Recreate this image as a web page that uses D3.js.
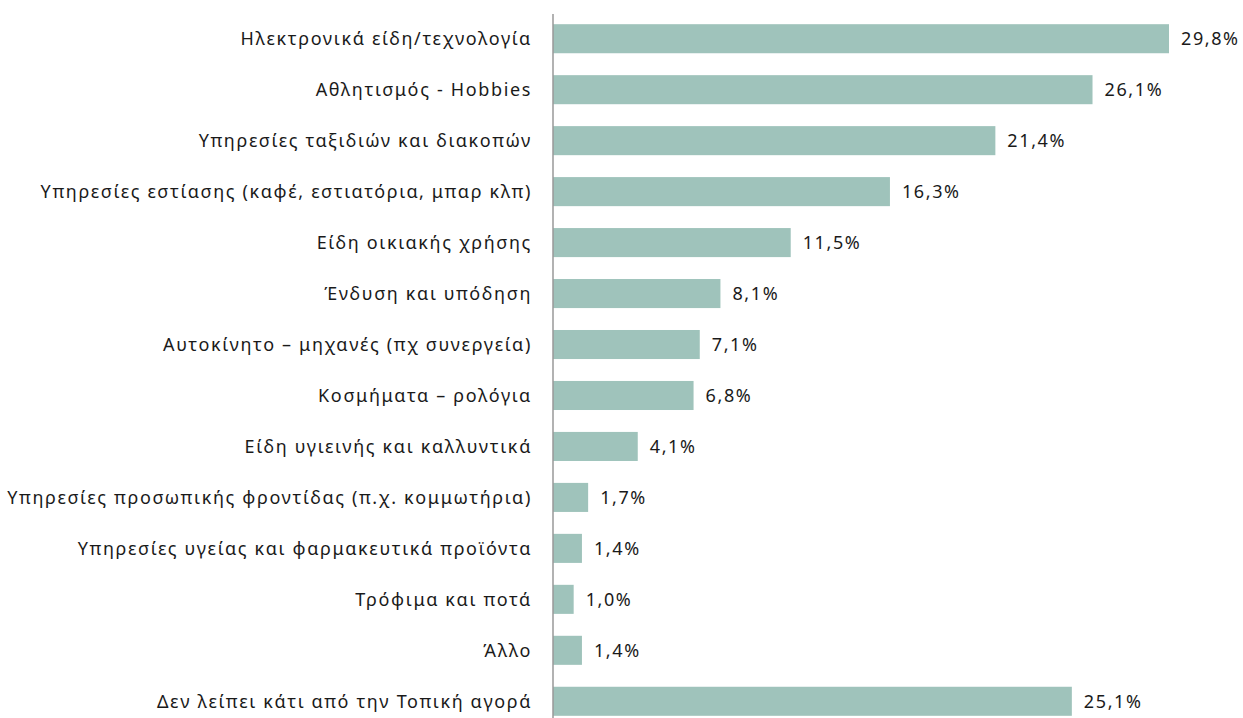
<!DOCTYPE html>
<html>
<head>
<meta charset="utf-8">
<script src="https://cdn.jsdelivr.net/npm/d3@7"></script>
<style>
  body { margin: 0; background: #fff; }
  text { font-family: "Noto Sans", "DejaVu Sans", sans-serif; fill: #1a1a1a; }
</style>
</head>
<body>
<script>
var categories = [
  "Ηλεκτρονικά είδη/τεχνολογία",
  "Αθλητισμός - Hobbies",
  "Υπηρεσίες ταξιδιών και διακοπών",
  "Υπηρεσίες εστίασης (καφέ, εστιατόρια, μπαρ κλπ)",
  "Είδη οικιακής χρήσης",
  "Ένδυση και υπόδηση",
  "Αυτοκίνητο – μηχανές (πχ συνεργεία)",
  "Κοσμήματα – ρολόγια",
  "Είδη υγιεινής και καλλυντικά",
  "Υπηρεσίες προσωπικής φροντίδας (π.χ. κομμωτήρια)",
  "Υπηρεσίες υγείας και φαρμακευτικά προϊόντα",
  "Τρόφιμα και ποτά",
  "Άλλο",
  "Δεν λείπει κάτι από την Τοπική αγορά"
];
var values = [29.8, 26.1, 21.4, 16.3, 11.5, 8.1, 7.1, 6.8, 4.1, 1.7, 1.4, 1.0, 1.4, 25.1];

var width = 1243, height = 718;
var axisX = 553;

var svg = d3.select("body").append("svg")
    .attr("width", width)
    .attr("height", height);

var x = d3.scaleLinear().domain([0, 29.8]).range([axisX, axisX + 616]);
var y = d3.scaleBand().domain(categories).range([14, 726]).paddingInner(0.43).paddingOuter(0.2);

var fmt = function(v) { return d3.format(".1f")(v).replace(".", ",") + "%"; };

svg.selectAll("rect.bar")
    .data(values)
  .enter().append("rect")
    .attr("class", "bar")
    .attr("x", x(0))
    .attr("y", function(d, i) { return y(categories[i]); })
    .attr("width", function(d) { return x(d) - x(0); })
    .attr("height", y.bandwidth())
    .attr("fill", "#9fc3bb");

svg.selectAll("text.val")
    .data(values)
  .enter().append("text")
    .attr("class", "val")
    .attr("x", function(d) { return x(d) + 12; })
    .attr("y", function(d, i) { return y(categories[i]) + y.bandwidth() / 2; })
    .attr("dy", "0.35em")
    .style("font-size", "18px")
    .style("letter-spacing", "1.6px")
    .text(fmt);

svg.selectAll("text.cat")
    .data(categories)
  .enter().append("text")
    .attr("class", "cat")
    .attr("x", axisX - 21)
    .attr("y", function(d) { return y(d) + y.bandwidth() / 2; })
    .attr("dy", "0.35em")
    .attr("text-anchor", "end")
    .style("font-size", "18px")
    .style("letter-spacing", "1.65px")
    .text(function(d) { return d; });

// vertical axis line
svg.append("line")
    .attr("x1", axisX).attr("x2", axisX)
    .attr("y1", 14).attr("y2", height)
    .attr("stroke", "#999")
    .attr("stroke-width", 1.5);
</script>
</body>
</html>
